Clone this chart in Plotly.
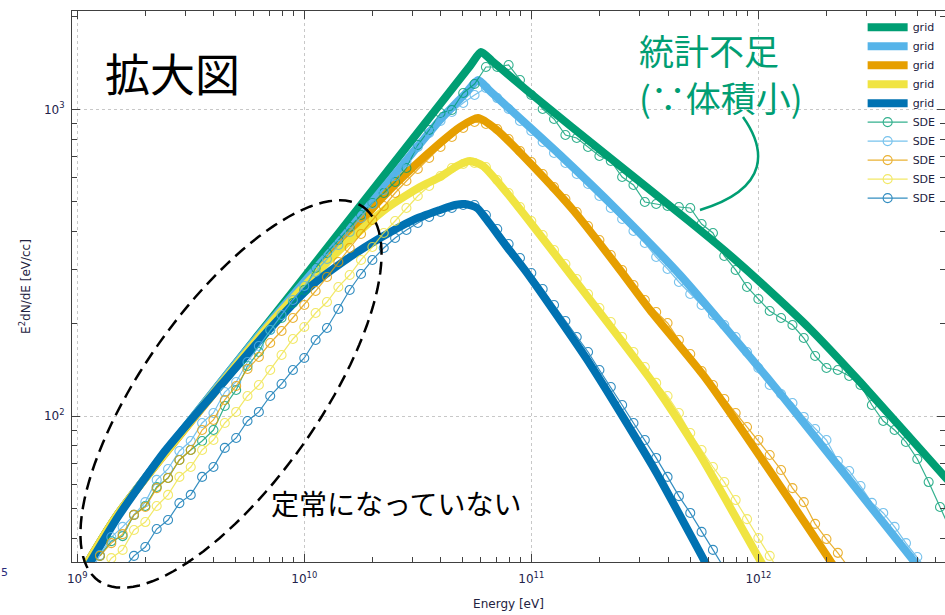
import math
import plotly.graph_objects as go

# ---------------- data ----------------
# energy bins of the SDE histograms [eV]
sde_energy = [
    1.000e9, 1.122e9, 1.259e9, 1.413e9, 1.585e9, 1.778e9, 1.995e9, 2.239e9, 2.512e9, 2.818e9,
    3.162e9, 3.548e9, 3.981e9, 4.467e9, 5.012e9, 5.623e9, 6.310e9, 7.079e9, 7.943e9, 8.913e9,
    1.000e10, 1.122e10, 1.259e10, 1.413e10, 1.585e10, 1.778e10, 1.995e10, 2.239e10, 2.512e10, 2.818e10,
    3.162e10, 3.548e10, 3.981e10, 4.467e10, 5.012e10, 5.623e10, 6.310e10, 7.079e10, 7.943e10, 8.913e10,
    1.000e11, 1.122e11, 1.259e11, 1.413e11, 1.585e11, 1.778e11, 1.995e11, 2.239e11, 2.512e11, 2.818e11,
    3.162e11, 3.548e11, 3.981e11, 4.467e11, 5.012e11, 5.623e11, 6.310e11, 7.079e11, 7.943e11, 8.913e11,
    1.000e12, 1.122e12, 1.259e12, 1.413e12, 1.585e12, 1.778e12, 1.995e12, 2.239e12, 2.512e12, 2.818e12,
    3.162e12, 3.548e12, 3.981e12, 4.467e12, 5.012e12, 5.623e12, 6.310e12, 7.079e12,
]

sde_green = [
    None, None, 35.0, 39.1, 40.6, 47.6, 50.9, 58.7, 62.8, 71.9,
    77.5, 82.9, 90.0, 107.8, 121.6, 145.6, 161.7, 190.8, 208.7, 233.6,
    257.6, 303.9, 340.1, 374.9, 413.3, 452.2, 494.9, 533.4, 579.4, 643.6,
    764.8, 856.0, 972.6, 994.8, 1130, 1209, 1374, 1374, 1395, 1246,
    1113, 1002, 930.0, 824.5, 806.2, 753.9, 704.4, 678.4, 601.6, 566.6,
    498.6, 491.2, 483.9, 480.2, 476.7, 422.7, 395.1, 332.5, 299.3, 263.5,
    240.7, 220.0, 208.7, 198.0, 179.6, 156.9, 143.4, 141.3, 135.1, 126.2,
    108.6, 96.3, 90.0, 82.3, 72.4, 60.9, 50.5, 41.9,
]
sde_lightblue = [
    None, 30.3, 35.2, 40.3, 43.5, 47.6, 52.4, 61.9, 67.2, 76.9,
    82.9, 94.9, 102.3, 119.7, 129.1, 150.0, 169.2, 190.8, 213.5, 238.9,
    265.5, 294.8, 325.0, 361.1, 398.1, 442.1, 491.2, 545.6, 606.1, 673.3,
    753.9, 837.0, 915.7, 979.9, 1048, 1113, 1173, 1088, 1002, 915.7,
    849.6, 782.3, 720.4, 668.3, 615.3, 570.9, 521.6, 476.7, 438.8, 401.1,
    366.5, 329.9, 301.6, 273.5, 250.0, 230.1, 213.5, 198.0, 181.0, 161.7,
    143.4, 126.2, 118.0, 110.3, 99.3, 90.7, 83.5, 71.3, 66.2, 59.1,
    52.1, 48.3, 43.5, 38.5, 34.7, 31.0,
]
sde_orange = [
    None, None, 35.0, 38.5, 41.2, 47.6, 50.5, 58.2, 62.8, 71.9,
    77.5, 90.0, 97.1, 112.8, 125.3, 142.3, 155.7, 173.0, 189.3, 208.7,
    230.1, 255.6, 283.9, 317.8, 353.0, 392.2, 435.5, 483.9, 533.4, 583.8,
    638.8, 693.9, 753.9, 812.3, 869.0, 908.9, 895.4, 862.4, 800.2, 731.3,
    673.3, 615.3, 558.2, 510.0, 462.6, 416.4, 374.9, 335.0, 299.3, 267.4,
    238.9, 218.3, 201.0, 176.9, 159.3, 140.2, 126.2, 113.6, 102.3, 92.1,
    83.5, 74.6, 66.7, 58.2, 52.4, 44.5, 39.7, 35.8, 31.9,
]
sde_yellow = [
    None, None, 30.3, 34.4, 36.6, 42.5, 45.1, 50.9, 55.3, 63.3,
    68.2, 77.5, 83.5, 94.9, 103.1, 116.2, 126.2, 141.3, 158.1, 178.3,
    195.1, 216.7, 235.3, 263.5, 288.2, 322.7, 355.7, 395.1, 432.3, 476.7,
    521.6, 562.4, 606.1, 643.6, 663.2, 668.3, 648.4, 588.1, 533.4, 480.2,
    432.3, 389.3, 347.7, 313.1, 279.7, 250.0, 225.0, 202.5, 181.0, 161.7,
    144.4, 128.2, 116.2, 102.3, 88.0, 77.5, 68.2, 60.9, 53.2, 46.1,
    40.0, 35.0, 30.5,
]
sde_blue = [
    None, None, None, None, 31.5, 35.0, 37.4, 42.8, 45.8, 52.0,
    55.3, 63.3, 68.2, 78.7, 84.8, 96.3, 103.1, 116.2, 127.2, 141.3,
    154.6, 176.9, 193.6, 223.4, 257.6, 290.4, 322.7, 353.0, 380.5, 404.1,
    425.9, 445.6, 462.6, 476.7, 487.5, 487.5, 452.3, 407.1, 363.8, 327.5,
    292.6, 259.5, 230.1, 204.1, 180.9, 161.7, 141.3, 124.3, 108.6, 94.9,
    83.5, 73.0, 63.3, 54.8, 48.3, 41.9, 36.6, 31.9,
]

# grid (finite-difference) solutions
grid_green_E = [1.0e9, 1.511e9, 9.574e9, 5.370e10, 6.004e10, 6.713e10, 9.870e10, 2.222e11, 5.00e11,
                7.134e11, 1.017e12, 1.690e12, 2.806e12, 6.645e12, 1.049e13]
grid_green_V = [29.2, 47.9, 272.7, 1384, 1538, 1437, 1130, 693.9, 429.1,
                345.2, 273.5, 192.2, 129.1, 63.25, 43.5]

grid_lightblue_E = [1.0e9, 1.511e9, 5.766e9, 9.574e9, 1.590e10, 2.640e10, 3.961e10, 5.104e10,
                    5.825e10, 6.577e10, 1.338e11, 2.459e11, 4.519e11, 9.193e11, 1.285e12,
                    4.803e12, 6.004e12]
grid_lightblue_V = [29.2, 47.9, 169.2, 263.5, 407.2, 643.6, 922.6, 1122,
                    1246, 1147, 709.7, 459.1, 288.2, 155.7, 115.3,
                    33.9, 27.5]

grid_orange_E = [1.0e9, 1.511e9, 4.707e9, 7.816e9, 1.298e10, 2.156e10, 2.922e10, 3.961e10, 4.852e10,
                 5.825e10, 7.063e10, 9.870e10, 1.527e11, 2.459e11, 3.333e11, 5.943e11, 2.091e12, 2.409e12]
grid_orange_V = [29.2, 47.9, 137.1, 211.9, 327.5, 506.2, 634.0, 776.5, 875.6,
                 936.8, 856.0, 668.3, 469.6, 299.3, 221.6, 131.0, 33.4, 28.3]

grid_yellow_E = [1.0e9, 1.511e9, 4.253e9, 7.063e9, 1.060e10, 1.590e10, 2.314e10, 3.233e10, 3.961e10,
                 4.707e10, 5.370e10, 6.127e10, 7.816e10, 9.870e10, 1.437e11, 3.436e11, 5.537e11,
                 1.028e12, 1.185e12]
grid_yellow_V = [29.2, 47.9, 126.2, 199.5, 277.6, 374.9, 476.7, 558.2, 601.6,
                 653.4, 678.4, 653.4, 533.4, 429.1, 299.3, 128.2, 74.6,
                 33.4, 27.9]

grid_blue_E = [1.0e9, 1.115e9, 1.511e9, 2.434e9, 4.340e9, 6.851e9, 1.060e10, 1.590e10, 2.156e10,
               3.012e10, 3.961e10, 4.612e10, 5.104e10, 5.766e10, 6.380e10, 7.816e10, 9.574e10,
               1.814e11, 3.543e11, 5.825e11, 6.445e11]
grid_blue_V = [28.75, 32.4, 46.9, 76.9, 127.2, 187.9, 263.5, 329.9, 380.5,
               435.5, 469.6, 487.5, 491.2, 476.7, 435.5, 355.7, 292.6,
               147.7, 65.7, 33.4, 29.2]

x_tick_vals = [1e9, 1e10, 1e11, 1e12]
x_tick_text = ["10<sup>9</sup>", "10<sup>10</sup>", "10<sup>11</sup>", "10<sup>12</sup>"]
y_tick_vals = [1e2, 1e3]
y_tick_text = ["10<sup>2</sup>", "10<sup>3</sup>"]

# ---------------- style ----------------
C_GREEN, C_SKY, C_ORANGE, C_YELLOW, C_BLUE = "#009E73", "#56B4E9", "#E69F00", "#F0E442", "#0072B2"
AXIS_C = "#404040"
TICK_FONT_C = "#22224a"

fig = go.Figure()

grid_sets = [
    (grid_green_E, grid_green_V, C_GREEN),
    (grid_lightblue_E, grid_lightblue_V, C_SKY),
    (grid_orange_E, grid_orange_V, C_ORANGE),
    (grid_yellow_E, grid_yellow_V, C_YELLOW),
    (grid_blue_E, grid_blue_V, C_BLUE),
]
for E, V, col in grid_sets:
    fig.add_trace(go.Scatter(
        x=E, y=V, mode="lines", name="grid",
        line=dict(color=col, width=8, shape="spline", smoothing=0.6),
    ))

sde_sets = [
    (sde_green, C_GREEN),
    (sde_lightblue, C_SKY),
    (sde_orange, C_ORANGE),
    (sde_yellow, C_YELLOW),
    (sde_blue, C_BLUE),
]
for vals, col in sde_sets:
    fig.add_trace(go.Scatter(
        x=sde_energy[:len(vals)], y=vals, mode="lines+markers", name="SDE",
        line=dict(color=col, width=1.2),
        marker=dict(symbol="circle-open", size=9, color=col, line=dict(width=1.1, color=col)),
        opacity=0.8,
    ))

# plot-area geometry in pixels (for decorations)
PL, PR, PT, PB = 72, 945, 11, 562


def paper(px, py):
    return (px - PL) / (PR - PL), (PB - py) / (PB - PT)


# dashed ellipse around the low-energy region
ecx, ecy, ea, eb, eth = 231.0, 394.0, 229.0, 88.0, math.radians(54.7)
pts = []
for i in range(121):
    t = 2 * math.pi * i / 120
    xx = ecx + ea * math.cos(t) * math.cos(eth) + eb * math.sin(t) * math.sin(eth)
    yy = ecy - ea * math.cos(t) * math.sin(eth) + eb * math.sin(t) * math.cos(eth)
    pts.append(paper(xx, yy))
ell_path = "M " + " L ".join(f"{a:.5f},{b:.5f}" for a, b in pts) + " Z"

# curved green pointer
p0, p1, p2, p3 = paper(743, 117), paper(765, 148), paper(772, 188), paper(700, 210)
arrow_path = (f"M {p0[0]:.5f},{p0[1]:.5f} C {p1[0]:.5f},{p1[1]:.5f} "
              f"{p2[0]:.5f},{p2[1]:.5f} {p3[0]:.5f},{p3[1]:.5f}")

shapes = [
    dict(type="path", xref="paper", yref="paper", path=ell_path,
         line=dict(color="black", width=2.5, dash="13px,7px")),
    dict(type="path", xref="paper", yref="paper", path=arrow_path,
         line=dict(color=C_GREEN, width=2.5)),
]

ax1 = paper(172.5, 72.5)
ax2a = paper(637, 49)
ax2b = paper(637, 96)
ax3 = paper(396.5, 503)
ax4 = paper(4, 572)
annotations = [
    dict(text="拡大図", x=ax1[0], y=ax1[1], xref="paper", yref="paper", showarrow=False,
         xanchor="center", yanchor="middle",
         font=dict(family="Noto Sans CJK JP", size=45, color="black")),
    dict(text="統計不足", x=ax2a[0], y=ax2a[1], xref="paper", yref="paper",
         showarrow=False, xanchor="left", yanchor="middle",
         font=dict(family="Noto Sans CJK JP", size=35, color=C_GREEN)),
    dict(text="(∵体積小)", x=ax2b[0], y=ax2b[1], xref="paper", yref="paper",
         showarrow=False, xanchor="left", yanchor="middle",
         font=dict(family="Noto Sans CJK JP", size=35, color=C_GREEN)),
    dict(text="定常になっていない", x=ax3[0], y=ax3[1], xref="paper", yref="paper", showarrow=False,
         xanchor="center", yanchor="middle",
         font=dict(family="Noto Sans CJK JP", size=28, color="black")),
    dict(text="5", x=ax4[0], y=ax4[1], xref="paper", yref="paper", showarrow=False,
         xanchor="center", yanchor="middle",
         font=dict(family="DejaVu Sans", size=11, color="#2a2a7a")),
]

minor_x = [n * 10 ** k for k in range(9, 13) for n in range(2, 10)]
minor_y = [n * 10 ** k for k in range(1, 4) for n in range(2, 10)]

fig.update_layout(
    width=945, height=615,
    margin=dict(l=PL, r=0, t=PT, b=615 - PB),
    paper_bgcolor="white", plot_bgcolor="white",
    font=dict(family="DejaVu Sans", size=12, color=TICK_FONT_C),
    showlegend=True,
    legend=dict(x=0.995, xanchor="right", y=0.997, yanchor="top",
                bgcolor="rgba(0,0,0,0)", font=dict(size=11, color="#222240"),
                itemwidth=40, tracegroupgap=0),
    shapes=shapes,
    annotations=annotations,
    xaxis=dict(
        type="log", range=[8.977, 12.822],
        tickmode="array", tickvals=x_tick_vals, ticktext=x_tick_text,
        ticks="inside", ticklen=8, tickcolor=AXIS_C, tickwidth=1,
        showline=True, linecolor=AXIS_C, linewidth=1, mirror="allticks",
        showgrid=True, gridcolor="#c8c8c8", griddash="dot", gridwidth=1,
        zeroline=False, ticklabelstandoff=6,
        minor=dict(tickmode="array", tickvals=minor_x, ticks="inside", ticklen=5,
                   tickcolor=AXIS_C, showgrid=False),
        title=dict(text="Energy [eV]", standoff=14, font=dict(size=12, color="#222240")),
        tickfont=dict(size=12, color=TICK_FONT_C),
    ),
    yaxis=dict(
        type="log", range=[1.524, 3.3205],
        tickmode="array", tickvals=y_tick_vals, ticktext=y_tick_text,
        ticks="inside", ticklen=8, tickcolor=AXIS_C, tickwidth=1,
        showline=True, linecolor=AXIS_C, linewidth=1, mirror="allticks",
        showgrid=True, gridcolor="#c8c8c8", griddash="dot", gridwidth=1,
        zeroline=False, ticklabelstandoff=4,
        minor=dict(tickmode="array", tickvals=minor_y, ticks="inside", ticklen=5,
                   tickcolor=AXIS_C, showgrid=False),
        title=dict(text="E<sup>2</sup>dN/dE [eV/cc]", standoff=10, font=dict(size=12, color="#222240")),
        tickfont=dict(size=12, color=TICK_FONT_C),
    ),
)

fig.write_html("out.html")
